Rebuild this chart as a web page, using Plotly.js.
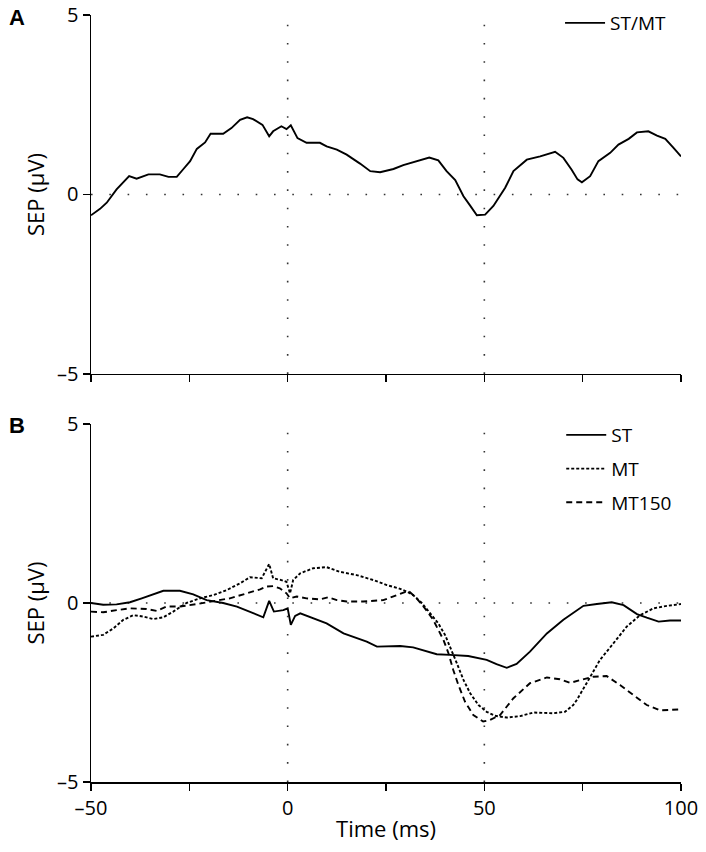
<!DOCTYPE html>
<html>
<head>
<meta charset="utf-8">
<script src="https://cdn.plot.ly/plotly-3.0.1.min.js"></script>
<style>html,body{margin:0;padding:0;background:#fff;}#chart{width:706px;height:852px;}</style>
</head>
<body>
<div id="chart"></div>
<script>
// Panel A: ST/MT
const stmtX = [-50,-47.7,-46,-43.5,-40.3,-38.4,-35.4,-32.5,-30.3,-28.2,-26.5,-24.8,-23.1,-21,-19.6,-16.4,-14.3,-12.1,-10.3,-8.8,-6.4,-4.7,-3.7,-1.6,-0.3,0.8,2.5,4.8,8.2,9.9,12.5,15,18.4,21,23.5,26.9,29.4,33.6,36,38.3,40.4,42.6,44.7,46.4,48.1,50.2,52.3,55.3,57.4,60.8,64.2,68,70.1,72.2,73.7,74.8,76.9,79,82,84.1,86.7,88.8,91.7,93.9,96,98.1,100];
const stmtY = [-0.58,-0.40,-0.23,0.14,0.51,0.44,0.56,0.56,0.49,0.49,0.71,0.93,1.27,1.45,1.69,1.69,1.85,2.08,2.15,2.10,1.94,1.62,1.76,1.90,1.82,1.93,1.57,1.44,1.44,1.34,1.25,1.11,0.86,0.65,0.62,0.71,0.82,0.95,1.03,0.95,0.65,0.40,-0.05,-0.31,-0.58,-0.56,-0.32,0.19,0.65,0.97,1.06,1.19,1.02,0.69,0.42,0.34,0.51,0.93,1.16,1.39,1.55,1.73,1.76,1.64,1.55,1.30,1.06];

// Panel B: ST
const stX = [-50,-46.9,-43.5,-40.1,-37.1,-34.2,-31.6,-27.4,-24,-20.6,-16.4,-12.9,-9.6,-6.2,-4.7,-3.5,-1.1,0,0.8,1.9,3.2,6.5,9.9,14.2,16.7,20.1,22.7,28.6,31.9,37.9,41.3,45.9,50.6,53.1,55.7,58.2,61.6,65.9,70.1,75.2,78.6,82.4,85.4,88.8,91.3,94.3,97.2,100];
const stY = [0,-0.05,-0.04,0.02,0.13,0.24,0.34,0.34,0.24,0.08,0,-0.10,-0.24,-0.40,0.06,-0.24,-0.20,-0.15,-0.61,-0.36,-0.29,-0.43,-0.57,-0.85,-0.94,-1.08,-1.22,-1.20,-1.24,-1.43,-1.45,-1.48,-1.59,-1.71,-1.81,-1.70,-1.36,-0.85,-0.47,-0.08,-0.03,0.02,-0.06,-0.31,-0.41,-0.52,-0.49,-0.49];

// Panel B: MT
const mtX = [-50,-46.9,-44.3,-41.8,-39.2,-36.7,-34.2,-31.6,-29.1,-25.7,-22.3,-18.9,-15.5,-12.1,-9.6,-6.6,-4.7,-3.7,-1.6,-0.3,0.6,1.4,3.2,6.5,9.9,13.3,17.5,21.8,25.2,28.2,30.3,31.9,34.1,36.2,38.3,40,41.7,43,44.7,46.4,48.5,50.6,52.7,55.7,59.1,62.5,67.6,70.5,72.6,73.5,76,79.4,82.8,86.2,89.6,93,96.4,100];
const mtY = [-0.94,-0.89,-0.71,-0.47,-0.34,-0.38,-0.45,-0.40,-0.24,0,0.13,0.22,0.36,0.55,0.72,0.69,1.09,0.69,0.64,0.59,0.27,0.64,0.83,0.97,1.00,0.87,0.78,0.64,0.50,0.41,0.32,0.22,0,-0.29,-0.57,-0.89,-1.31,-1.68,-2.15,-2.52,-2.85,-3.04,-3.15,-3.20,-3.16,-3.06,-3.08,-3.04,-2.85,-2.71,-2.24,-1.59,-1.13,-0.66,-0.34,-0.15,-0.08,-0.03];

// Panel B: MT150
const mt150X = [-50,-46.9,-43.5,-40.1,-35.9,-33.3,-30.8,-27.4,-23.1,-18.9,-14.7,-10.4,-7,-5.3,-3.7,-2,-0.3,0.6,2.3,4.8,8.2,10.3,12.5,15,19.2,24.3,26.9,30.7,32.8,34.9,37,38.3,39.6,40.9,42.1,43.4,45.1,47.2,49.7,51.4,54,57.4,61.6,65.9,69.2,71.8,74.3,77.7,81.1,84.5,87.9,91.3,94.7,100];
const mt150Y = [-0.24,-0.26,-0.20,-0.15,-0.17,-0.22,-0.10,-0.10,-0.03,0.04,0.13,0.27,0.38,0.46,0.47,0.41,0.27,0.13,0.18,0.13,0.10,0.16,0.08,0.04,0.04,0.08,0.18,0.34,0.13,-0.15,-0.47,-0.75,-1.03,-1.41,-1.87,-2.29,-2.76,-3.13,-3.31,-3.27,-3.13,-2.66,-2.24,-2.08,-2.13,-2.23,-2.15,-2.06,-2.04,-2.29,-2.57,-2.85,-3.0,-2.97];

const xTickVals = [-50,-25,0,25,50,75,100];
const xTickText = ['–50','','0','','50','','100'];
const yTickVals = [-5,0,5];
const yTickText = ['–5','0','5'];
const refX = [0, 50];

const FONT = 'Open Sans, Noto Sans, sans-serif';
const lw = 1.9;

const traces = [
  {x: stmtX, y: stmtY, name: 'ST/MT', xaxis: 'x2', yaxis: 'y2', mode: 'lines',
   line: {color: '#000', width: lw}, legend: 'legend', legendgroup: 'a'},
  {x: stX, y: stY, name: 'ST', xaxis: 'x', yaxis: 'y', mode: 'lines',
   line: {color: '#000', width: lw}, legend: 'legend2', legendgroup: 'b1'},
  {x: mtX, y: mtY, name: 'MT', xaxis: 'x', yaxis: 'y', mode: 'lines',
   line: {color: '#000', width: lw, dash: '3px,2px'}, legend: 'legend2', legendgroup: 'b2'},
  {x: mt150X, y: mt150Y, name: 'MT150', xaxis: 'x', yaxis: 'y', mode: 'lines',
   line: {color: '#000', width: lw, dash: '6px,4px'}, legend: 'legend2', legendgroup: 'b3'}
];

const dotLine = {color: '#333', width: 1.6, dash: '1.6px,16.7px'};
const shapes = [];
[['x','y'],['x2','y2']].forEach(([xr, yr]) => {
  refX.forEach(v => shapes.push({type:'line', xref:xr, yref:yr, x0:v, x1:v, y0:-5, y1:5, line: dotLine, layer:'below'}));
  shapes.push({type:'line', xref:xr, yref:yr, x0:-50, x1:100, y0:0, y1:0, line: dotLine, layer:'below'});
});

const axisCommon = {
  range: [-50, 100], showgrid: false, zeroline: false, showline: true,
  linecolor: '#000', linewidth: 1.5, ticks: 'outside', ticklen: 7, tickwidth: 1.5,
  tickcolor: '#000', tickmode: 'array', tickvals: xTickVals,
  tickfont: {family: FONT, size: 20, color: '#000'}
};
const yCommon = {
  range: [-5, 5], showgrid: false, zeroline: false, showline: true,
  linecolor: '#000', linewidth: 1.5, ticks: 'outside', ticklen: 7, tickwidth: 1.5,
  tickcolor: '#000', tickmode: 'array', tickvals: yTickVals, ticktext: yTickText,
  tickfont: {family: FONT, size: 20, color: '#000'},
  title: {text: 'SEP (μV)', font: {family: FONT, size: 22, color: '#000'}, standoff: 6}
};

const layout = {
  width: 706, height: 852,
  margin: {l: 91, r: 25, t: 15, b: 70, autoexpand: false},
  paper_bgcolor: '#fff', plot_bgcolor: '#fff',
  font: {family: FONT, color: '#000'},
  xaxis: Object.assign({}, axisCommon, {anchor: 'y', ticktext: xTickText,
    title: {text: 'Time (ms)', font: {family: FONT, size: 22, color: '#000'}, standoff: 2}}),
  yaxis: Object.assign({}, yCommon, {domain: [0, 0.4668], anchor: 'x'}),
  xaxis2: Object.assign({}, axisCommon, {anchor: 'y2', showticklabels: false}),
  yaxis2: Object.assign({}, yCommon, {domain: [0.532, 1], anchor: 'x2'}),
  shapes: shapes,
  showlegend: true,
  legend: {x: 0.795, y: 0.9953, yref: 'container', xanchor: 'left', yanchor: 'top', bgcolor: 'rgba(0,0,0,0)',
    itemwidth: 40,
    font: {family: FONT, size: 19, color: '#000'}},
  legend2: {x: 0.797, y: 0.5117, yref: 'container', xanchor: 'left', yanchor: 'top', bgcolor: 'rgba(0,0,0,0)',
    traceorder: 'grouped', tracegroupgap: 6, itemwidth: 40,
    font: {family: FONT, size: 19, color: '#000'}},
  annotations: [
    {text: '<b>A</b>', xref: 'paper', yref: 'paper', x: -0.125, y: 0.997, xanchor: 'center', yanchor: 'middle',
     showarrow: false, font: {family: 'Liberation Sans, Arial, sans-serif', size: 22, color: '#000'}},
    {text: '<b>B</b>', xref: 'paper', yref: 'paper', x: -0.125, y: 0.465, xanchor: 'center', yanchor: 'middle',
     showarrow: false, font: {family: 'Liberation Sans, Arial, sans-serif', size: 22, color: '#000'}}
  ]
};

Plotly.newPlot('chart', traces, layout, {displayModeBar: false, staticPlot: true});
</script>
</body>
</html>
